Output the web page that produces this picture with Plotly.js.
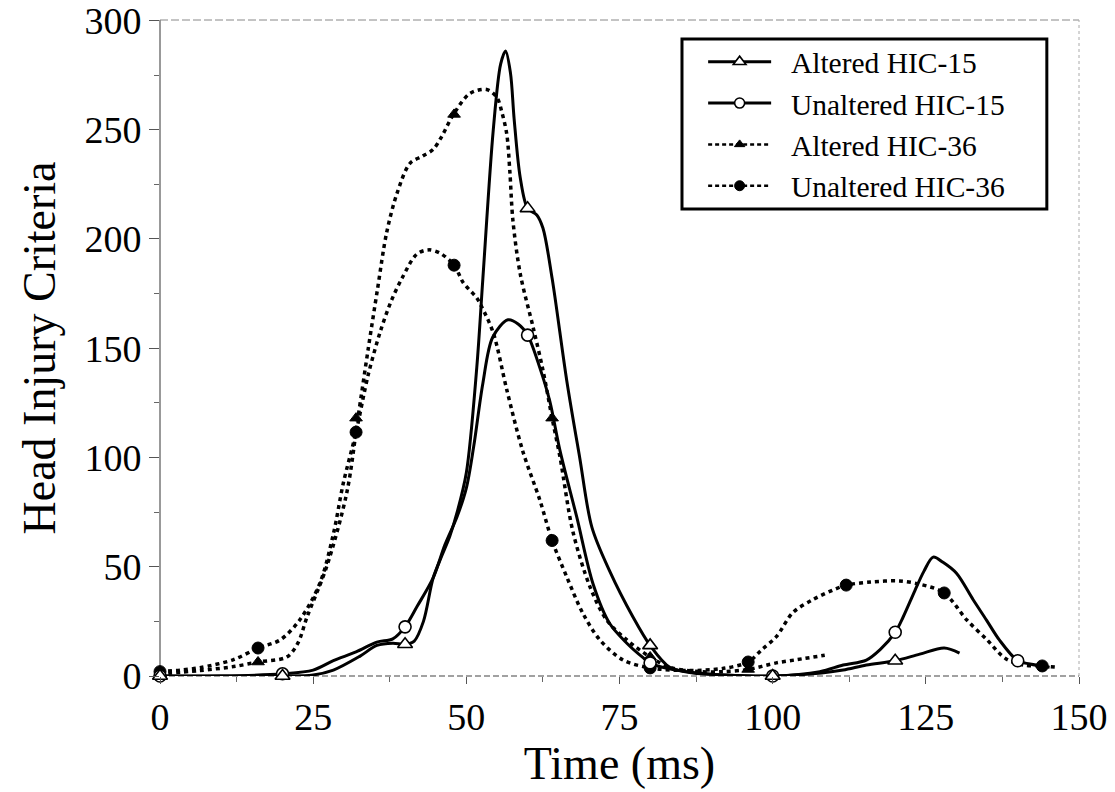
<!DOCTYPE html>
<html>
<head>
<meta charset="utf-8">
<script src="https://cdn.plot.ly/plotly-3.0.1.min.js"></script>
<style>
  html, body { margin: 0; padding: 0; background: #ffffff; }
  #chart { width: 1115px; height: 792px; }
</style>
</head>
<body>
<div id="chart"></div>
<script>
// ---- Data ----
// Altered HIC-15 (solid line, open triangles)
const alt15_t = [0, 10, 20, 25, 28.3, 32.6, 35.4, 38, 40, 41.5, 43, 44.6, 46, 47.3, 48.5, 50, 51.7, 52.7, 54.4, 55.6, 56.4, 57.2, 57.8, 58.8, 60, 61.5, 62.5, 64, 66.4, 68.5, 70.5, 73.4, 77.2, 80, 83.2, 87, 92, 100, 108, 111.5, 115.3, 120, 124, 128, 130.5];
const alt15_v = [0, 0, 0, 0.5, 2.7, 9, 14, 15, 14.5, 16, 25, 45, 55, 64, 75, 93, 141, 182, 250, 280, 286, 276, 255, 228, 214, 211, 205, 182, 135, 100, 68, 48, 27, 14, 4, 1.4, 0.5, 0, 1.4, 2.7, 5, 7, 10, 12.8, 10.5];
const alt15_mt = [0, 20, 40, 60, 80, 100, 120];
const alt15_mv = [0, 0, 14.5, 214, 14, 0, 7];

// Unaltered HIC-15 (solid line, open circles)
const unalt15_t = [0, 10, 20, 25, 28.3, 32, 35.4, 38, 40, 42, 44.6, 46.5, 48.5, 50, 51.2, 52.7, 54.3, 56.8, 58.5, 60, 62, 63.6, 65.3, 68, 70.7, 73.4, 76.2, 78.8, 80, 82, 86, 92, 100, 107.7, 111.5, 115.3, 117.5, 120, 121.3, 123.2, 124.7, 126.2, 127.8, 130, 132.7, 134.9, 137, 140, 142, 145.2];
const unalt15_v = [0, 0, 1, 2.7, 7, 11, 15.5, 17, 22.5, 32, 45, 60, 73, 86, 105, 134, 155, 163, 161, 156, 141, 126, 103, 73, 42, 24, 15, 8.5, 6, 4, 2, 0.5, 0, 2, 5, 7.3, 12, 20, 27, 39, 48, 54.4, 52, 47, 35, 25.6, 16.5, 7, 5.5, 4];
const unalt15_mt = [0, 20, 40, 60, 80, 100, 120, 140];
const unalt15_mv = [0, 1, 22.5, 156, 6, 0, 20, 7];

// Altered HIC-36 (dashed line, filled triangles)
const alt36_t = [0, 6.5, 12, 16, 20.7, 22.5, 24, 27.2, 30.5, 32.3, 34, 35.5, 37, 38.7, 40.8, 42.9, 44.6, 46, 47.9, 50.6, 53.3, 55, 55.8, 56.6, 57.1, 57.6, 58.8, 60.9, 62.5, 64, 65.3, 67.4, 70.2, 72.9, 76.2, 80, 83.2, 88, 92, 96, 100.6, 104, 108.5];
const alt36_v = [1, 2.5, 4.3, 6.4, 8.7, 15, 27, 50, 84, 118, 150, 177, 203, 221, 234.6, 238, 241, 247, 257, 266.6, 268.4, 264.7, 258, 248, 231, 208.5, 184, 159.6, 140, 118, 100, 66, 40.7, 25.6, 16.5, 8.7, 4, 2, 2, 3, 6, 7.5, 9.5];
const alt36_mt = [0, 16, 32, 48, 64, 80, 96];
const alt36_mv = [1, 6.4, 118, 257, 118, 8.7, 3];

// Unaltered HIC-36 (dashed line, filled circles)
const unalt36_t = [0, 3.3, 6.5, 12, 16, 19.6, 22.8, 26.1, 28.3, 29.9, 32, 34, 36, 37.8, 39.5, 41.9, 43.8, 45.7, 48, 49.5, 51.7, 52.5, 54.4, 56.6, 59.2, 62, 64, 66.4, 69, 71.8, 75.6, 80, 86, 92, 96, 98.2, 100.6, 103.3, 106.6, 110.4, 112, 116, 120.7, 124, 128, 131.7, 135, 138, 141, 144, 146.5];
const unalt36_v = [2, 2.7, 3.8, 7.5, 12.8, 16.5, 25.6, 42.5, 65, 88, 111.6, 138, 158, 172, 182, 193, 195, 193.5, 188, 180, 173, 169, 157, 131, 103, 80.5, 62, 45.3, 28.8, 16.5, 7.3, 3.7, 2.5, 3.5, 6.4, 12, 18, 29, 35, 40, 41.6, 43, 43.5, 42, 38, 25.6, 16.5, 8, 5, 4.6, 4];
const unalt36_mt = [0, 16, 32, 48, 64, 80, 96, 112, 128, 144];
const unalt36_mv = [2, 12.8, 111.6, 188, 62, 3.7, 6.4, 41.6, 38, 4.6];

const seriesNames = ['Altered HIC-15', 'Unaltered HIC-15', 'Altered HIC-36', 'Unaltered HIC-36'];
const xTicks = [0, 25, 50, 75, 100, 125, 150];
const yTicks = [0, 50, 100, 150, 200, 250, 300];

// ---- Styles ----
const FONT = '"Liberation Serif", "Times New Roman", Times, serif';
const solidLine = {color: '#000', width: 3, shape: 'spline', smoothing: 0.9};
const dashLine = {color: '#000', width: 3.5, dash: '4px,4px', shape: 'spline', smoothing: 0.9};
const styles = [
  {line: solidLine, marker: {symbol: 'triangle-up', size: 13, color: '#fff', line: {color: '#000', width: 1.6}}},
  {line: solidLine, marker: {symbol: 'circle', size: 12, color: '#fff', line: {color: '#000', width: 1.6}}},
  {line: dashLine, marker: {symbol: 'triangle-up', size: 11, color: '#000', line: {color: '#000', width: 1}}},
  {line: dashLine, marker: {symbol: 'circle', size: 12, color: '#000', line: {color: '#000', width: 1}}}
];
const curves = [[alt15_t, alt15_v], [unalt15_t, unalt15_v], [alt36_t, alt36_v], [unalt36_t, unalt36_v]];
const marks = [[alt15_mt, alt15_mv], [unalt15_mt, unalt15_mv], [alt36_mt, alt36_mv], [unalt36_mt, unalt36_mv]];

const traces = [];
[3, 2, 1, 0].forEach(i => {
  traces.push({x: curves[i][0], y: curves[i][1], type: 'scatter', mode: 'lines',
    line: styles[i].line, showlegend: false, hoverinfo: 'skip', cliponaxis: false});
});
[3, 2, 1, 0].forEach(i => {
  traces.push({x: marks[i][0], y: marks[i][1], type: 'scatter', mode: 'markers',
    marker: styles[i].marker, showlegend: false, cliponaxis: false});
});
// legend entries
[0, 1, 2, 3].forEach(i => {
  const m = JSON.parse(JSON.stringify(styles[i].marker));
  m.size = m.size - 2;
  traces.push({x: [null], y: [null], type: 'scatter', mode: 'lines+markers',
    name: '\u00a0\u00a0' + seriesNames[i],
    line: {color: '#000', width: i < 2 ? 3 : 2.5, dash: i < 2 ? 'solid' : '4px,3px'}, marker: m});
});

const layout = {
  width: 1115, height: 792,
  margin: {l: 160, r: 36, t: 20, b: 116},
  paper_bgcolor: '#fff', plot_bgcolor: '#fff',
  font: {family: FONT, color: '#000'},
  showlegend: true,
  legend: {
    x: 0.591, y: 0.9756, xanchor: 'left', yanchor: 'top',
    bgcolor: 'rgba(0,0,0,0)', borderwidth: 0,
    font: {family: FONT, size: 29.5, color: '#000'},
    itemwidth: 63, traceorder: 'normal'
  },
  xaxis: {
    range: [0, 150], tickvals: xTicks, ticktext: xTicks.map(String),
    ticks: 'outside', ticklen: 7, tickwidth: 1, tickcolor: '#555',
    minor: {dtick: 12.5, tick0: 0, ticks: 'outside', ticklen: 5, tickcolor: '#666', showgrid: false},
    showgrid: false, zeroline: false, showline: false, ticklabeloverflow: 'allow',
    tickfont: {family: FONT, size: 38, color: '#000'},
    title: {text: 'Time (ms)', font: {family: FONT, size: 46, color: '#000'}, standoff: 4},
    fixedrange: true
  },
  yaxis: {
    range: [0, 300.2], tickvals: yTicks, ticktext: yTicks.map(String),
    ticks: 'outside', ticklen: 10, tickwidth: 1, tickcolor: '#555',
    minor: {dtick: 25, tick0: 0, ticks: 'outside', ticklen: 5, tickcolor: '#666', showgrid: false},
    showgrid: false, zeroline: false, showline: false, ticklabeloverflow: 'allow',
    tickfont: {family: FONT, size: 38, color: '#000'},
    title: {text: 'Head Injury Criteria', font: {family: FONT, size: 46, color: '#000'}, standoff: 14},
    fixedrange: true
  },
  shapes: [
    {type: 'line', xref: 'paper', yref: 'paper', x0: 0, x1: 0, y0: 0, y1: 1, line: {color: '#777', width: 1.5}, layer: 'below'},
    {type: 'line', xref: 'paper', yref: 'paper', x0: 0, x1: 1, y0: 0, y1: 0, line: {color: '#444', width: 1.2, dash: '6px,3px'}, layer: 'below'},
    {type: 'line', xref: 'paper', yref: 'paper', x0: 0, x1: 1, y0: 1, y1: 1, line: {color: '#888', width: 1, dash: '8px,3px'}, layer: 'below'},
    {type: 'line', xref: 'paper', yref: 'paper', x0: 1, x1: 1, y0: 0, y1: 1, line: {color: '#aaa', width: 1, dash: '3px,3px'}, layer: 'below'},
    // legend frame
    {type: 'rect', xref: 'paper', yref: 'paper', x0: 0.568, x1: 0.965, y0: 0.712, y1: 0.971,
      line: {color: '#000', width: 3}, fillcolor: '#fff', layer: 'below'}
  ]
};

Plotly.newPlot('chart', traces, layout, {displayModeBar: false, staticPlot: true});
</script>
</body>
</html>
